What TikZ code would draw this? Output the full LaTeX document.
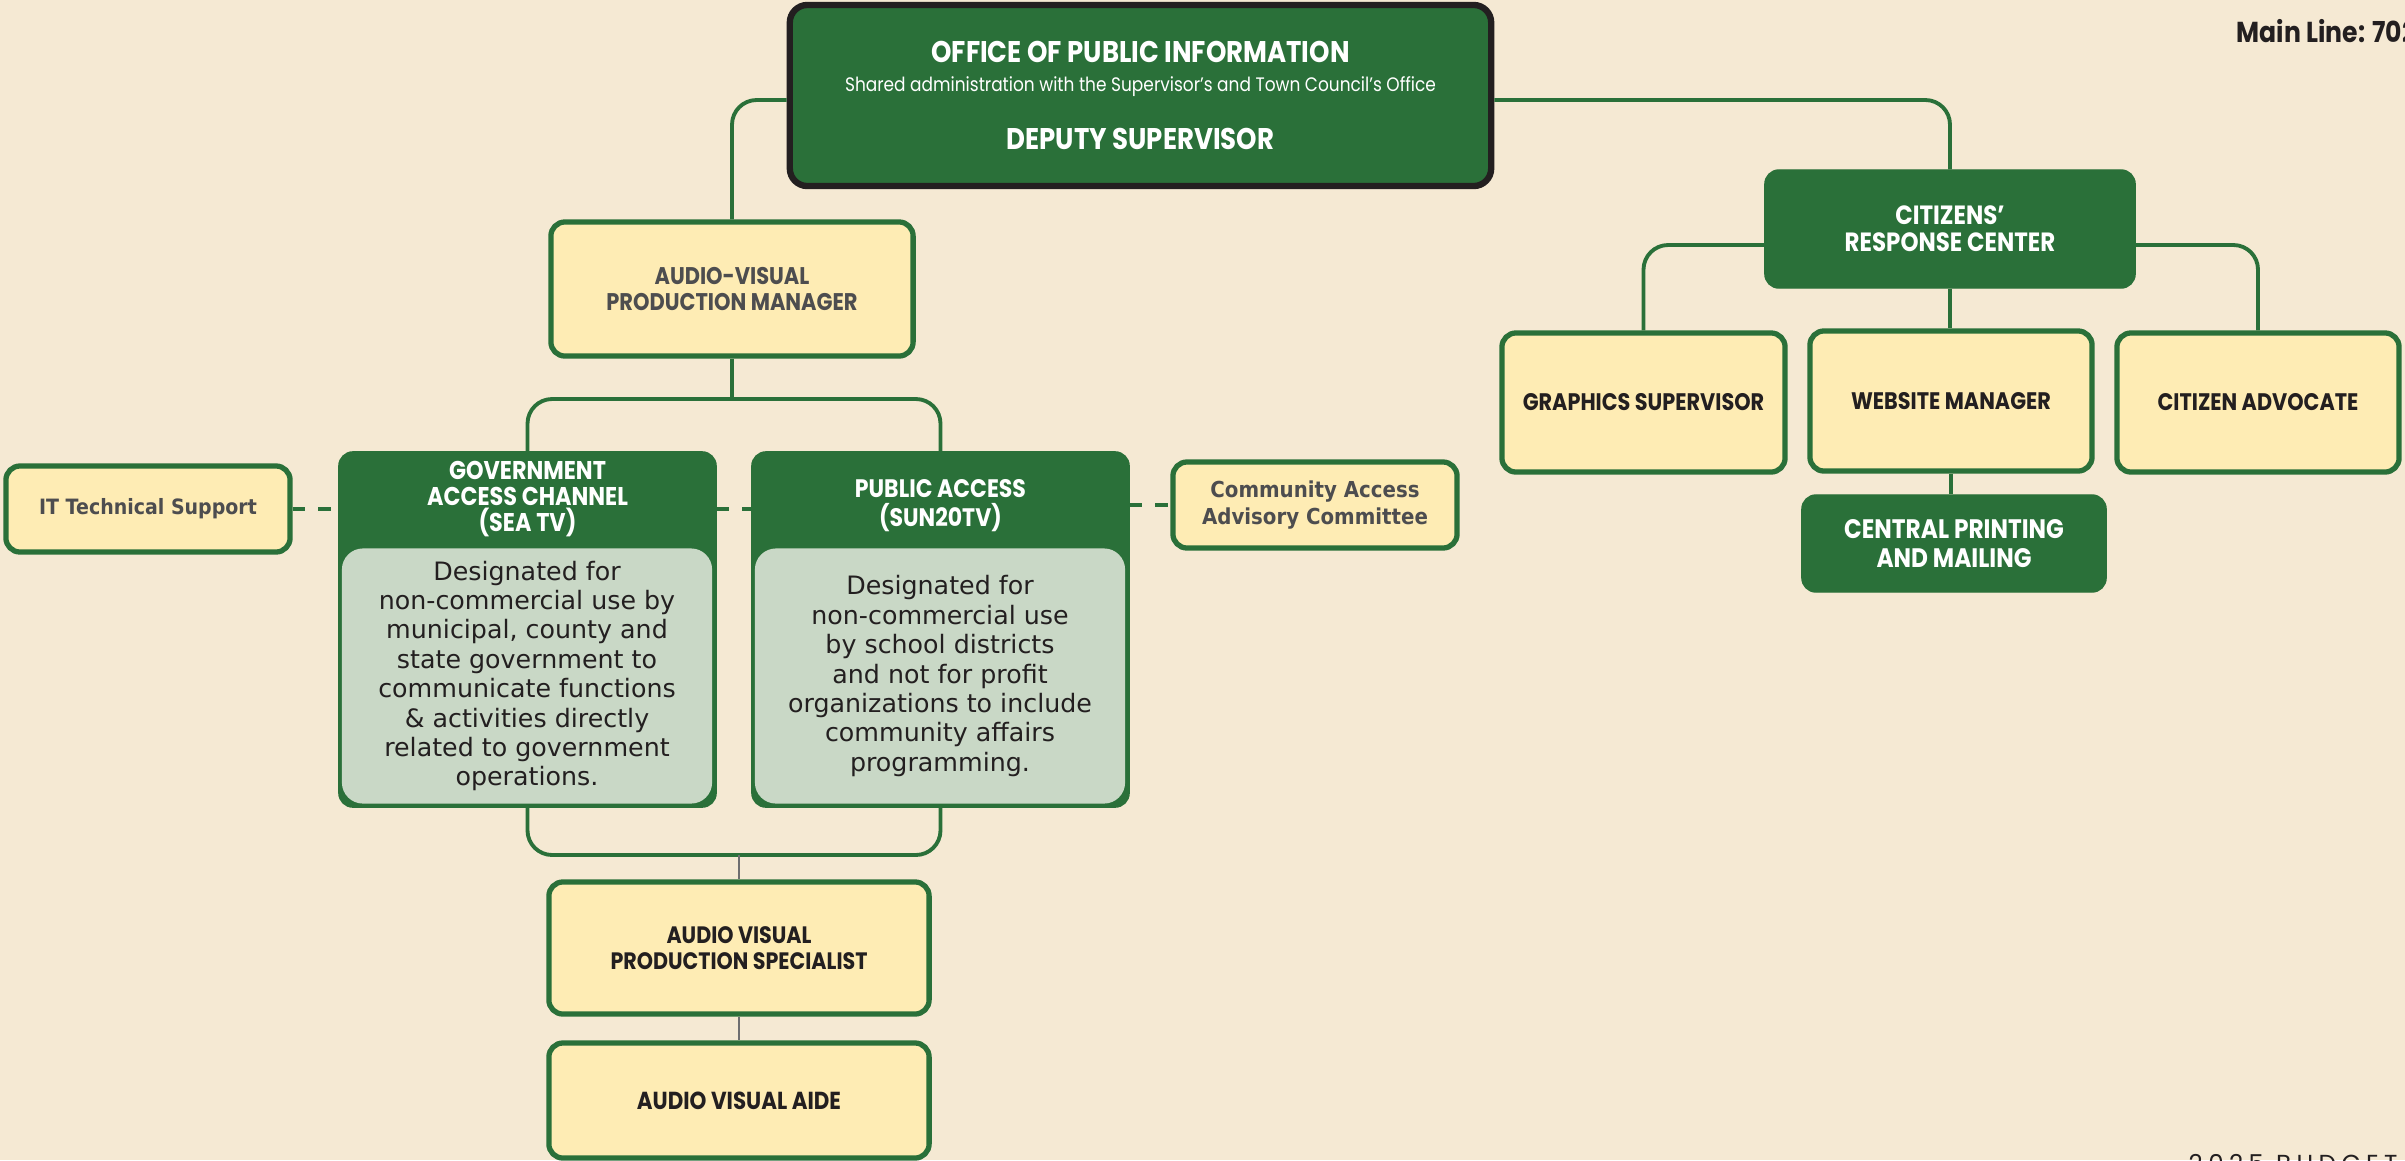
\documentclass[tikz,border=0pt]{standalone}
\usepackage{fontspec}
\usetikzlibrary{calc}
\newfontfamily\headfont{Poppins}[FakeStretch=0.87]
\newfontfamily\bodyfont{DejaVu Sans}
\newfontfamily\labelfont{DejaVu Sans}[FakeStretch=0.9]
\newfontfamily\budgetfont{Poppins}[LetterSpace=22]
\definecolor{paper}{RGB}{245, 233, 211}
\definecolor{office}{RGB}{ 42, 112,  57}
\definecolor{pale}{RGB}{254, 236, 180}
\definecolor{sage}{RGB}{201, 216, 198}
\definecolor{ink}{RGB}{ 35,  31,  32}
\definecolor{slate}{RGB}{ 77,  77,  79}
\definecolor{wire}{RGB}{110, 110, 112}

\begin{document}
\begin{tikzpicture}[x=0.01cm, y=-0.01cm,
	link/.style={draw=office, line width=1.1pt, rounded corners=7pt},
	aside/.style={draw=office, line width=1.3pt, dash pattern=on 3.6pt off 3.6pt},
	plain/.style={draw=wire, line width=0.8pt},
	pale box/.style={draw=office, line width=1.5pt, fill=pale, rounded corners=4pt, align=center, inner sep=0pt},
	green box/.style={draw=office, fill=office, rounded corners=4pt, align=center, text=white, inner sep=0pt},
	panel/.style={fill=sage, rounded corners=6pt, align=center, text=ink, inner sep=0pt,
		font=\bodyfont\fontsize{7.2}{8.35}\selectfont},
	head/.style={font=\headfont\bfseries\fontsize{#1}{7.4}\selectfont},
	side/.style={font=\labelfont\bfseries\fontsize{#1}{7.4}\selectfont, text=slate}
]
	\useasboundingbox (0,0) rectangle (2405,1160);
	\clip (0,0) rectangle (2405,1160);
	\fill[paper] (0,0) rectangle (2405,1160);

	% office
	\node[green box, draw=ink, line width=1.8pt, rounded corners=5pt, minimum width=7.01cm, minimum height=1.81cm,
		font=\headfont\fontsize{8.5}{8.3}\selectfont] (opi) at (1140.5,95.5) {
		{\bfseries OFFICE OF PUBLIC INFORMATION}\\
		{\fontsize{5.55}{6}\selectfont Shared administration with the Supervisor’s and Town Council’s Office}\\[8pt]
		{\bfseries DEPUTY SUPERVISOR}};
	\node[anchor=west, inner sep=0pt, text=ink, head=8.2] (mainline) at (2236,31) {Main Line: 702};

	% audio-visual side
	\node[pale box, minimum width=3.62cm, minimum height=1.34cm, text=slate, head=6.85] (avm) at (732,289)
		{AUDIO-VISUAL\\PRODUCTION MANAGER};

	\node[green box, minimum width=3.77cm, minimum height=3.55cm] (gov) at (527.5,629.5) {};
	\node[text=white, align=center, inner sep=0pt, head=7.3] (govhead) at (527.5,499.5)
		{GOVERNMENT\\ACCESS CHANNEL\\(SEA TV)};
	\node[panel, minimum width=3.70cm, minimum height=2.55cm] (govbody) at (527,676) {
		Designated for\\non-commercial use by\\municipal, county and\\state government to\\
		communicate functions\\\& activities directly\\related to government\\operations.};

	\node[green box, minimum width=3.77cm, minimum height=3.55cm] (pub) at (940.5,629.5) {};
	\node[text=white, align=center, inner sep=0pt, font=\headfont\bfseries\fontsize{7.2}{8.3}\selectfont] (pubhead) at (940.5,505.5)
		{PUBLIC ACCESS\\(SUN20TV)};
	\node[panel, minimum width=3.70cm, minimum height=2.55cm] (pubbody) at (940,676) {
		Designated for\\non-commercial use\\by school districts\\and not for profit\\
		organizations to include\\community affairs\\programming.};

	\node[pale box, minimum width=2.84cm, minimum height=0.86cm, side=6] (it) at (148,509) {IT Technical Support};
	\node[pale box, minimum width=2.84cm, minimum height=0.86cm, side=6.25] (caac) at (1315,505)
		{Community Access\\Advisory Committee};

	\node[pale box, minimum width=3.80cm, minimum height=1.32cm, text=ink, head=6.75] (avs) at (739,948)
		{AUDIO VISUAL\\PRODUCTION SPECIALIST};
	\node[pale box, minimum width=3.80cm, minimum height=1.15cm, text=ink, head=7] (ava) at (739,1100.5)
		{AUDIO VISUAL AIDE};

	% citizens' side
	\node[green box, minimum width=3.70cm, minimum height=1.18cm, font=\headfont\bfseries\fontsize{7.5}{7.6}\selectfont] (crc) at (1950,229)
		{CITIZENS’\\RESPONSE CENTER};
	\node[pale box, minimum width=2.83cm, minimum height=1.39cm, text=ink, head=6.8] (gfx) at (1643.5,402.5)
		{GRAPHICS SUPERVISOR};
	\node[pale box, minimum width=2.82cm, minimum height=1.40cm, text=ink, head=6.8] (web) at (1951,401)
		{WEBSITE MANAGER};
	\node[pale box, minimum width=2.82cm, minimum height=1.39cm, text=ink, head=6.8] (adv) at (2258,402.5)
		{CITIZEN ADVOCATE};
	\node[green box, minimum width=3.04cm, minimum height=0.97cm, font=\headfont\bfseries\fontsize{7.6}{8.3}\selectfont] (cpm) at (1954,543.5)
		{CENTRAL PRINTING\\AND MAILING};

	\node[anchor=north west, inner sep=0pt, text=ink, font=\budgetfont\fontsize{7}{8}\selectfont] (budget) at (2188,1154)
		{2025 BUDGET};

	% lines
	\draw[link] ($(opi.west)+(0,4.5)$) -| (avm.north);
	\draw[link] ($(opi.east)+(0,4.5)$) -| (crc.north);

	\coordinate (avsplit) at (732,399);
	\draw[link] (avm.south) -- (avsplit);
	\draw[link] (avsplit) -| (gov.north);
	\draw[link] (avsplit) -| (pub.north);

	\coordinate (avjoin) at (739,855);
	\draw[link] (gov.south) |- (avjoin) -| (pub.south);
	\draw[plain] (avjoin) -- (avs.north);
	\draw[plain] (avs.south) -- (ava.north);

	\draw[aside] (it.east) -- (it.east -| gov.west);
	\draw[aside] (gov.east |- it.east) -- (pub.west |- it.east);
	\draw[aside] (pub.east |- caac.west) -- (caac.west);

	\draw[link] ($(crc.west)+(0,16)$) -| (gfx.north);
	\draw[link] ($(crc.east)+(0,16)$) -| (adv.north);
	\draw[link] (crc.south) -- (crc.south |- web.north);
	\draw[link] (web.south) -- (web.south |- cpm.north);
\end{tikzpicture}
\end{document}
